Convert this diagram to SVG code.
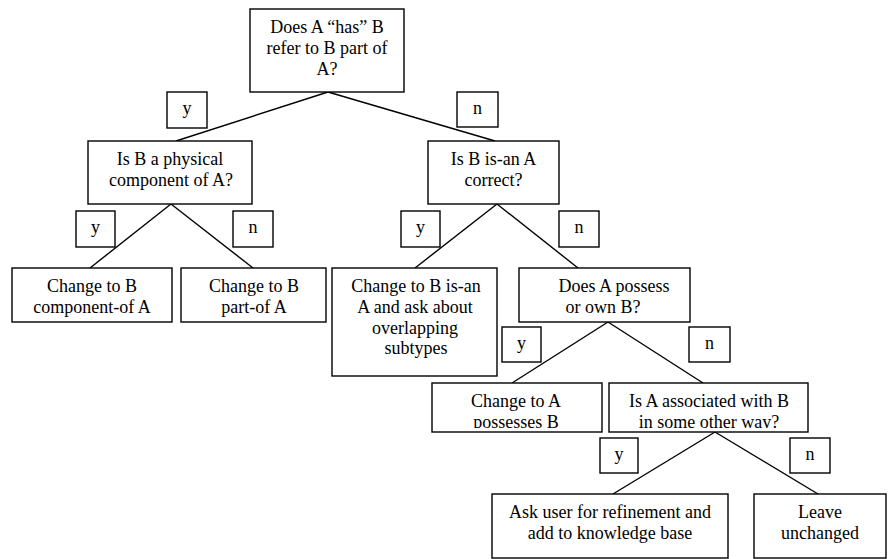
<svg xmlns="http://www.w3.org/2000/svg" width="889" height="559" viewBox="0 0 889 559">
  <style>
    .box { fill: #ffffff; stroke: #000000; stroke-width: 1.4; }
    .lbl { fill: #ffffff; stroke: #000000; stroke-width: 1.4; }
    .edge { stroke: #000000; stroke-width: 1.4; fill: none; }
    text { font-family: "Liberation Serif", "Times New Roman", serif; font-size: 18px; fill: #000000; text-anchor: middle; }
  </style>
  <defs>
    <!-- inner text areas of the two short boxes; second lines are cut at the bottom margin -->
    <clipPath id="clip-possess"><rect x="432" y="383" width="170" height="45"/></clipPath>
    <clipPath id="clip-assoc"><rect x="609" y="383" width="199" height="45"/></clipPath>
  </defs>

  <rect width="889" height="559" fill="#ffffff"/>

  <!-- tree connectors -->
  <g id="connectors">
    <line class="edge" x1="328" y1="92" x2="176" y2="141"/>
    <line class="edge" x1="328" y1="92" x2="495" y2="141"/>
    <line class="edge" x1="171" y1="204" x2="90" y2="268"/>
    <line class="edge" x1="171" y1="204" x2="253" y2="268"/>
    <line class="edge" x1="497" y1="204" x2="415" y2="268"/>
    <line class="edge" x1="497" y1="204" x2="578" y2="268"/>
    <line class="edge" x1="608" y1="322" x2="512" y2="383"/>
    <line class="edge" x1="608" y1="322" x2="703" y2="383"/>
    <line class="edge" x1="715" y1="432" x2="613" y2="494"/>
    <line class="edge" x1="715" y1="432" x2="818" y2="494"/>
  </g>

  <!-- yes / no branch labels -->
  <g id="branch-labels">
    <rect class="lbl" x="167" y="92" width="40" height="36"/><text x="187" y="114">y</text>
    <rect class="lbl" x="457" y="92" width="41" height="35"/><text x="477.5" y="114">n</text>
    <rect class="lbl" x="76" y="211" width="39" height="36"/><text x="95.5" y="233">y</text>
    <rect class="lbl" x="233" y="211" width="40" height="36"/><text x="253" y="233">n</text>
    <rect class="lbl" x="401" y="211" width="39" height="36"/><text x="420.5" y="233">y</text>
    <rect class="lbl" x="559" y="211" width="40" height="36"/><text x="579" y="233">n</text>
    <rect class="lbl" x="502" y="327" width="39" height="35"/><text x="521.5" y="349">y</text>
    <rect class="lbl" x="689" y="327" width="41" height="35"/><text x="709.5" y="349">n</text>
    <rect class="lbl" x="600" y="438" width="38" height="35"/><text x="619" y="460">y</text>
    <rect class="lbl" x="790" y="438" width="40" height="35"/><text x="810" y="460">n</text>
  </g>

  <g id="q-has">
    <rect class="box" x="250" y="9" width="154" height="83"/>
    <text x="327" y="33">Does A “has” B</text>
    <text x="327" y="54">refer to B part of</text>
    <text x="327" y="74.5">A?</text>
  </g>

  <g id="q-physical">
    <rect class="box" x="88" y="141" width="164" height="63"/>
    <text x="170" y="165">Is B a physical</text>
    <text x="171" y="185.5">component of A?</text>
  </g>

  <g id="q-isan">
    <rect class="box" x="428" y="141" width="131" height="63"/>
    <text x="493.5" y="165">Is B is-an A</text>
    <text x="493.5" y="185.5">correct?</text>
  </g>

  <g id="r-component">
    <rect class="box" x="12" y="268" width="160" height="54"/>
    <text x="92" y="292">Change to B</text>
    <text x="92" y="312.5">component-of A</text>
  </g>

  <g id="r-partof">
    <rect class="box" x="181" y="268" width="145" height="54"/>
    <text x="254" y="292">Change to B</text>
    <text x="254" y="312.5">part-of A</text>
  </g>

  <g id="r-isan">
    <rect class="box" x="332" y="268" width="165" height="108"/>
    <text x="416" y="292">Change to B is-an</text>
    <text x="415" y="313">A and ask about</text>
    <text x="415" y="333.5">overlapping</text>
    <text x="416" y="354">subtypes</text>
  </g>

  <g id="q-possess">
    <rect class="box" x="519" y="268" width="171" height="54"/>
    <text x="614" y="292">Does A possess</text>
    <text x="603" y="312.5">or own B?</text>
  </g>

  <g id="r-possesses">
    <rect class="box" x="432" y="383" width="170" height="49"/>
    <g clip-path="url(#clip-possess)">
      <text x="516" y="407">Change to A</text>
      <text x="516" y="427.5">possesses B</text>
    </g>
  </g>

  <g id="q-associated">
    <rect class="box" x="609" y="383" width="199" height="49"/>
    <g clip-path="url(#clip-assoc)">
      <text x="709" y="407">Is A associated with B</text>
      <text x="709" y="427.5">in some other way?</text>
    </g>
  </g>

  <g id="r-refine">
    <rect class="box" x="492" y="494" width="236" height="64"/>
    <text x="610" y="518">Ask user for refinement and</text>
    <text x="610" y="539">add to knowledge base</text>
  </g>

  <g id="r-leave">
    <rect class="box" x="754" y="494" width="132" height="64"/>
    <text x="820" y="518">Leave</text>
    <text x="820" y="539">unchanged</text>
  </g>
</svg>
